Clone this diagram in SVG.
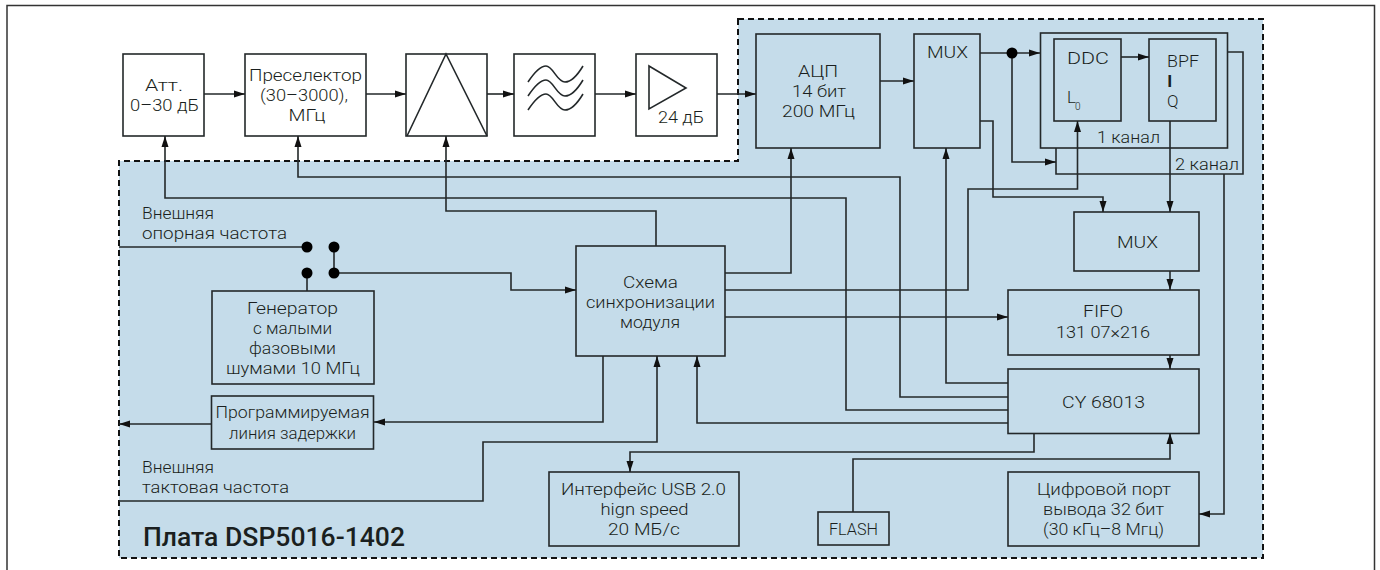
<svg xmlns="http://www.w3.org/2000/svg" width="1380" height="570" viewBox="0 0 1380 570">
<style>
text{font-family:Roboto,"Open Sans","Liberation Sans",sans-serif;font-weight:300;font-size:17px;fill:#1a1f20;text-anchor:middle}
.l{text-anchor:start}
.w{fill:#fff;stroke:#23282a;stroke-width:1.6}
.c{fill:#c5dcea;stroke:#23282a;stroke-width:1.6}
.n{fill:none;stroke:#23282a;stroke-width:1.6}
.a{fill:none;stroke:#23282a;stroke-width:1.6;marker-end:url(#ah)}
.d{fill:#000}
</style>
<defs><marker id="ah" markerUnits="userSpaceOnUse" markerWidth="12" markerHeight="8" refX="11" refY="4" orient="auto"><path d="M0 0.5L11 4L0 7.500z" fill="#111"/></marker></defs>
<path id="frame" d="M7 570V5.500H1374.500V570" fill="#fff" stroke="#333" stroke-width="1.500"/>
<path id="panel" d="M738 19H1263V558H119V161H738Z" fill="#c5dcea" stroke="#111" stroke-width="2" stroke-dasharray="6 4"/>
<g id="att"><rect class="w" x="123" y="54" width="81" height="82"/><text x="164" y="91" textLength="38" lengthAdjust="spacingAndGlyphs">Атт.</text><text x="164.500" y="111" textLength="69" lengthAdjust="spacingAndGlyphs">0–30 дБ</text></g>
<g id="preselector"><rect class="w" x="245" y="54" width="121" height="82"/><text x="305.500" y="81" textLength="113" lengthAdjust="spacingAndGlyphs">Преселектор</text><text x="304" y="101" textLength="88" lengthAdjust="spacingAndGlyphs">(30–3000),</text><text x="307" y="121" textLength="37" lengthAdjust="spacingAndGlyphs">МГц</text></g>
<g id="mixer"><rect class="w" x="406" y="54" width="81" height="82"/><path class="n" d="M407 136L446 54L487 136"/></g>
<g id="filter"><rect class="w" x="514" y="54" width="81" height="82"/><path class="n" d="M528 82C536 70 541 66 546 66C553 66 557 82 565 82C571 82 577 76 583 66"/><path class="n" d="M528 96C536 84 541 80 546 80C553 80 557 96 565 96C571 96 577 90 583 80"/><path class="n" d="M528 110C536 98 541 94 546 94C553 94 557 110 565 110C571 110 577 104 583 94"/></g>
<g id="amp"><rect class="w" x="636" y="54" width="81" height="82"/><path class="n" d="M649 66L686 88L649 109Z"/><text x="681" y="123" textLength="46" lengthAdjust="spacingAndGlyphs">24 дБ</text></g>
<g id="adc"><rect class="c" x="756" y="34" width="124" height="114"/><text x="818" y="77" textLength="40" lengthAdjust="spacingAndGlyphs">АЦП</text><text x="819" y="97" textLength="54" lengthAdjust="spacingAndGlyphs">14 бит</text><text x="818.500" y="117" textLength="73" lengthAdjust="spacingAndGlyphs">200 МГц</text></g>
<g id="mux1"><rect class="c" x="914" y="34" width="66" height="114"/><text x="947.500" y="58" textLength="41" lengthAdjust="spacingAndGlyphs">MUX</text></g>
<g id="channel1"><rect class="c" x="1040.500" y="33" width="187" height="115"/><text x="1128.500" y="143" textLength="63" lengthAdjust="spacingAndGlyphs">1 канал</text></g>
<g id="channel2"><path class="n" d="M1228 52H1243V174H1056V148"/><text x="1207" y="170" textLength="64" lengthAdjust="spacingAndGlyphs">2 канал</text></g>
<g id="ddc"><rect class="c" x="1054" y="39" width="67" height="82"/><text x="1088" y="64" textLength="42" lengthAdjust="spacingAndGlyphs">DDC</text><text class="l" x="1067" y="103">L</text><text class="l" x="1075" y="110" style="font-size:10px">0</text></g>
<g id="bpf"><rect class="c" x="1149" y="39" width="67" height="82"/><text x="1183" y="67" textLength="32" lengthAdjust="spacingAndGlyphs">BPF</text><text x="1169.700" y="87" style="font-weight:700">I</text><text class="l" x="1167" y="107">Q</text></g>
<g id="mux2"><rect class="c" x="1074" y="212" width="125" height="59"/><text x="1137.500" y="248" textLength="41" lengthAdjust="spacingAndGlyphs">MUX</text></g>
<g id="fifo"><rect class="c" x="1008" y="290" width="191" height="65"/><text x="1103" y="317" textLength="40" lengthAdjust="spacingAndGlyphs">FIFO</text><text x="1103" y="338" textLength="94" lengthAdjust="spacingAndGlyphs">131 07×216</text></g>
<g id="cy"><rect class="c" x="1008" y="369" width="191" height="64.500"/><text x="1103.500" y="407.500" textLength="83" lengthAdjust="spacingAndGlyphs">CY 68013</text></g>
<g id="port"><rect class="c" x="1008" y="472" width="191" height="74"/><text x="1104" y="495" textLength="134" lengthAdjust="spacingAndGlyphs">Цифровой порт</text><text x="1103.500" y="515" textLength="121" lengthAdjust="spacingAndGlyphs">вывода 32 бит</text><text x="1103.500" y="535" textLength="121" lengthAdjust="spacingAndGlyphs">(30 кГц–8 Мгц)</text></g>
<g id="flash"><rect class="c" x="818" y="512" width="71" height="33"/><text x="853.500" y="535" textLength="49" lengthAdjust="spacingAndGlyphs">FLASH</text></g>
<g id="usb"><rect class="c" x="549" y="472" width="190" height="74"/><text x="643.500" y="495" textLength="165" lengthAdjust="spacingAndGlyphs">Интерфейс USB 2.0</text><text x="644.500" y="515" textLength="88" lengthAdjust="spacingAndGlyphs">hign speed</text><text x="644" y="535" textLength="72" lengthAdjust="spacingAndGlyphs">20 МБ/с</text></g>
<g id="sync"><rect class="c" x="576" y="246" width="149" height="110"/><text x="650.500" y="288" textLength="55" lengthAdjust="spacingAndGlyphs">Схема</text><text x="650.500" y="308" textLength="129" lengthAdjust="spacingAndGlyphs">синхронизации</text><text x="650" y="328" textLength="60" lengthAdjust="spacingAndGlyphs">модуля</text></g>
<g id="gen"><rect class="c" x="212" y="291" width="162" height="93"/><text x="292.500" y="314" textLength="91" lengthAdjust="spacingAndGlyphs">Генератор</text><text x="292.500" y="334" textLength="79" lengthAdjust="spacingAndGlyphs">с малыми</text><text x="292.500" y="354" textLength="87" lengthAdjust="spacingAndGlyphs">фазовыми</text><text x="293" y="374" textLength="134" lengthAdjust="spacingAndGlyphs">шумами 10 МГц</text></g>
<g id="delay"><rect class="c" x="211.500" y="396" width="162" height="53"/><text x="292.500" y="418" textLength="154" lengthAdjust="spacingAndGlyphs">Программируемая</text><text x="292.500" y="439" textLength="127" lengthAdjust="spacingAndGlyphs">линия задержки</text></g>
<g id="connectors">
<path class="a" d="M204 94H245"/><path class="a" d="M366 94H406"/><path class="a" d="M487 94H514"/><path class="a" d="M595 94H636"/><path class="a" d="M717 94H756"/>
<path class="a" d="M880 81H914"/><path class="a" d="M980 53H1040"/><path class="a" d="M1121 57H1149"/>
<path class="a" d="M1012 53V162H1056"/>
<path class="a" d="M980 121H993V197H1103V212"/>
<path class="a" d="M1170 121V212"/>
<path class="a" d="M1170 271V290"/><path class="a" d="M1170 355V369"/>
<path class="a" d="M1224 174V514H1199"/>
<path class="a" d="M725 273H791V148"/>
<path class="a" d="M725 290H968V189H1077.500V121"/>
<path class="a" d="M725 317H1008"/>
<path class="a" d="M1008 410H846V198H165V136"/>
<path class="a" d="M1008 397H900V177H298V136"/>
<path class="a" d="M1008 383H946V148"/>
<path class="a" d="M1008 423H697V356"/>
<path class="a" d="M656 246V211H446V136"/>
<path class="a" d="M603 356V422H374"/>
<path class="a" d="M211 424H119"/>
<path class="a" d="M119 501H483V442H657V356"/>
<path class="n" d="M119 247H307"/>
<path class="n" d="M334 247V273"/><path class="n" d="M307 273V291"/>
<path class="a" d="M334 273H511V290H576"/>
<path class="a" d="M1034 433V452H630V472"/>
<path class="a" d="M853 512V459H1170V433"/>
<circle class="d" cx="1012" cy="53" r="5.500"/>
<circle class="d" cx="307" cy="247" r="5.500"/><circle class="d" cx="334" cy="247" r="5.500"/><circle class="d" cx="307" cy="273" r="5.500"/><circle class="d" cx="334" cy="273" r="5.500"/>
</g>
<text class="l" x="142" y="219" textLength="72" lengthAdjust="spacingAndGlyphs">Внешняя</text><text class="l" x="142" y="239" textLength="145" lengthAdjust="spacingAndGlyphs">опорная частота</text>
<text class="l" x="142" y="473" textLength="72" lengthAdjust="spacingAndGlyphs">Внешняя</text><text class="l" x="142" y="493" textLength="147" lengthAdjust="spacingAndGlyphs">тактовая частота</text>
<text class="l" x="143" y="546" textLength="262" lengthAdjust="spacingAndGlyphs" style="font-size:25px;font-weight:500">Плата DSP5016-1402</text>
</svg>
